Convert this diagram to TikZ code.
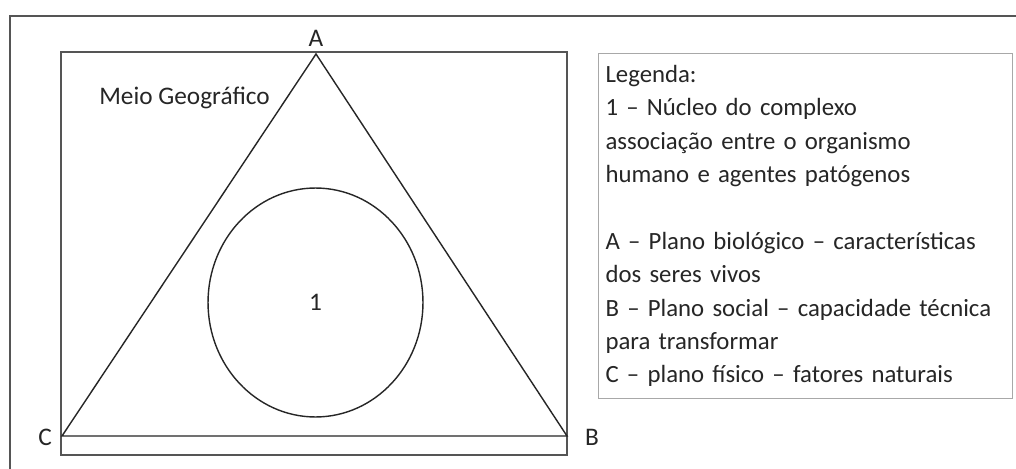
\documentclass[tikz,border=0pt]{standalone}
\usepackage{fontspec}
\setmainfont{Carlito}
\usetikzlibrary{shapes.geometric}
\definecolor{Frame}{HTML}{555555}
\definecolor{Ink}{HTML}{262626}
\definecolor{Soft}{HTML}{A8A8A8}

\begin{document}
\begin{tikzpicture}[x=0.02cm,y=-0.02cm,
    frame/.style={line width=1.1pt,Frame},
    side/.style={line width=0.8pt,Ink},
    vlabel/.style={font=\fontsize{14.4}{17}\selectfont,text=Ink,inner sep=0pt}]
    \useasboundingbox (0,0) rectangle (1016,469);
    \fill[white] (0,0) rectangle (1016,469);
    \draw[frame] (10,480) -- (10,16) -- (1030,16);
    \draw[frame] (61,52) rectangle (567,455);
    \coordinate (A) at (316,54);
    \coordinate (B) at (567,436);
    \coordinate (C) at (62,436);
    \draw[side] (A) -- (B) -- (C) -- cycle;
    \node[vlabel] (labA) at (316,38) {A};
    \node[vlabel] (labB) at (592,437) {B};
    \node[vlabel] (labC) at (45,437) {C};
    \node[vlabel,anchor=west] (meio) at (99,98) {Meio Geográfico};
    \node[draw,side,ellipse,minimum width=4.3cm,minimum height=4.58cm,
      font=\fontsize{14.4}{17}\selectfont,text=Ink] (nucleo) at (315.5,302.5) {1};
    \node[draw=Soft,line width=0.6pt,anchor=north west,align=left,
      text width=8.0cm,minimum height=6.9cm,inner xsep=0.14cm,inner ysep=0.1cm,
      font=\fontsize{14.1}{19}\selectfont,text=Ink] (legenda) at (598,53)
      {Legenda:\\
       1 – Núcleo do complexo\\
       associação entre o organismo\\
       humano e agentes patógenos\\[19pt]
       A – Plano biológico – características\\
       dos seres vivos\\
       B – Plano social – capacidade técnica\\
       para transformar\\
       C – plano físico – fatores naturais};
\end{tikzpicture}
\end{document}
